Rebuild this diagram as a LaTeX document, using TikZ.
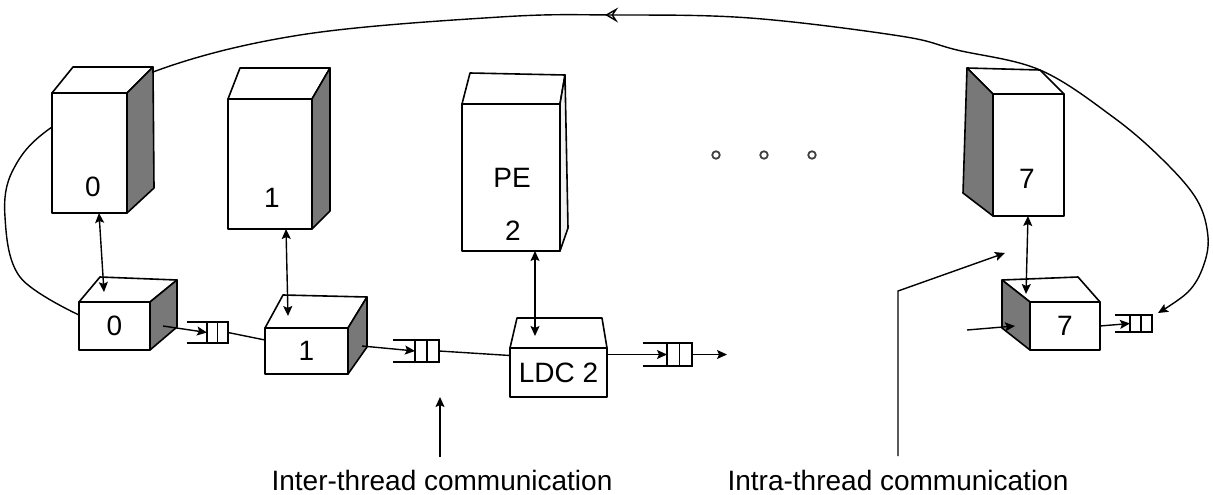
\documentclass[tikz,border=0pt]{standalone}
\usepackage{fontspec}
\setmainfont{Liberation Sans}
\usetikzlibrary{arrows.meta,decorations.markings,calc}
\pgfdeclarelayer{bg}
\pgfsetlayers{bg,main}
\definecolor{sidegray}{gray}{0.47}
\tikzset{
  face/.style={draw=black, line width=1.6pt, line join=round, fill=white},
  dark/.style={face, fill=sidegray},
  light/.style={face, fill=gray!12},
  front/.style={face, rectangle, inner sep=0pt, outer sep=0pt, font=\fontsize{28}{33}\selectfont},
  lbl/.style={inner sep=0pt, font=\fontsize{28}{33}\selectfont},
  capt/.style={inner sep=0pt, anchor=base, font=\fontsize{28}{33}\selectfont},
  conn/.style={line width=1.4pt},
  tip/.style={-{Stealth[length=10pt,width=9pt,inset=2pt]}},
  dbl/.style={conn, {Stealth[length=10pt,width=9pt,inset=2pt]}-{Stealth[length=10pt,width=9pt,inset=2pt]}},
  queue/.style={draw, line width=1.4pt, rectangle, inner sep=0pt, outer sep=0pt, fill=white},
  dotc/.style={circle, draw=black!75, line width=1.8pt, minimum size=7.5pt, inner sep=0pt},
}
\begin{document}
\begin{tikzpicture}[x=1pt,y=-1pt]
\useasboundingbox (0,0) rectangle (1213,495);

% ---------- PE boxes ----------
\node[front, minimum width=75pt, minimum height=120pt] (pe0) at (89.5,153) {};
\draw[face] (pe0.north west) -- (73,67) -- (153,67) -- (pe0.north east) -- cycle;
\draw[dark] (pe0.north east) -- (153,67) -- (154,188) -- (pe0.south east) -- cycle;
\node[lbl] (pe0l) at (93,187) {0};

\node[front, minimum width=84pt, minimum height=130pt] (pe1) at (270,164) {};
\draw[face] (pe1.north west) -- (240,68) -- (330,68) -- (pe1.north east) -- cycle;
\draw[dark] (pe1.north east) -- (330,68) -- (330,211) -- (pe1.south east) -- cycle;
\node[lbl] (pe1l) at (272,198) {1};

\node[front, minimum width=98pt, minimum height=147pt] (pe2) at (511,177.5) {};
\draw[face] (pe2.north west) -- (470,73) -- (565,75) -- (pe2.north east) -- cycle;
\draw[light] (pe2.north east) -- (565,75) -- (568,228) -- (pe2.south east) -- cycle;
\node[lbl] (pe2a) at (512,178) {PE};
\node[lbl] (pe2b) at (513,231) {2};

\node[front, minimum width=71pt, minimum height=122pt] (pe7) at (1028.5,155) {};
\draw[face] (pe7.north west) -- (967,68) -- (1040,70) -- (pe7.north east) -- cycle;
\draw[dark] (pe7.north west) -- (967,68) -- (963,193) -- (pe7.south west) -- cycle;
\node[lbl] (pe7l) at (1027,179) {7};

% ---------- LDC boxes ----------
\node[front, minimum width=71pt, minimum height=48pt] (ldc0) at (114.5,326) {0};
\draw[face] (ldc0.north west) -- (100,277) -- (177,280) -- (ldc0.north east) -- cycle;
\draw[dark] (ldc0.north east) -- (177,280) -- (177,327) -- (ldc0.south east) -- cycle;

\node[front, minimum width=83pt, minimum height=46pt] (ldc1) at (306.5,351) {1};
\draw[face] (ldc1.north west) -- (283,295) -- (367,297) -- (ldc1.north east) -- cycle;
\draw[dark] (ldc1.north east) -- (367,297) -- (367,347) -- (ldc1.south east) -- cycle;

\node[front, minimum width=97pt, minimum height=49pt] (ldc2) at (558.5,372.5) {LDC 2};
\draw[face] (ldc2.north west) -- (517,318) -- (602,318) -- (ldc2.north east) -- cycle;

\node[front, minimum width=70pt, minimum height=48pt] (ldc7) at (1065,326) {7};
\draw[face] (ldc7.north west) -- (1002,280) -- (1078,277) -- (ldc7.north east) -- cycle;
\draw[dark] (ldc7.north west) -- (1002,280) -- (1002,328) -- (ldc7.south west) -- cycle;

% ---------- queues ----------
\node[queue, minimum width=21pt, minimum height=21pt] (q0) at (217.5,332.5) {};
\draw[conn] (q0.north) -- (q0.south) (q0.north west) -- ++(-20,0) (q0.south west) -- ++(-20,0);
\node[queue, minimum width=24pt, minimum height=22pt] (q1) at (427,351) {};
\draw[conn] (q1.north) -- (q1.south) (q1.north west) -- ++(-22,0) (q1.south west) -- ++(-22,0);
\node[queue, minimum width=25pt, minimum height=23pt] (q2) at (679.5,354.5) {};
\draw[conn] (q2.north) -- (q2.south) (q2.north west) -- ++(-24,0) (q2.south west) -- ++(-24,0);
\node[queue, minimum width=22pt, minimum height=17pt] (q7) at (1141,323.5) {};
\draw[conn] (q7.north) -- (q7.south) (q7.north west) -- ++(-15,0) (q7.south west) -- ++(-15,0);

% ---------- PE <-> LDC ----------
\draw[dbl] ([xshift=9.5pt]pe0.south) -- ([xshift=-10.5pt,yshift=10pt]ldc0.north);
\draw[dbl] ([xshift=16pt]pe1.south) -- ([xshift=-18.5pt,yshift=12pt]ldc1.north);
\draw[dbl] ([xshift=24pt]pe2.south) -- ([xshift=-23.5pt,yshift=12pt]ldc2.north);
\draw[dbl] ([xshift=-0.5pt]pe7.south) -- ([xshift=-39pt,yshift=8pt]ldc7.north);

% ---------- ring connectors ----------
\draw[conn,tip] ([xshift=13pt]ldc0.east) -- (q0.west);
\draw[conn] (q0.east) -- ([yshift=11pt]ldc1.west);
\draw[conn,tip] ([xshift=14pt,yshift=5pt]ldc1.east) -- (q1.west);
\draw[conn] (q1.east) -- ([yshift=17pt]ldc2.west);
\draw[conn,tip] ([yshift=18pt]ldc2.east) -- (q2.west);
\coordinate (q2out) at (727,354.5);
\draw[conn,tip] (q2.east) -- (q2out);
\coordinate (ldc7in) at (967,330);
\draw[conn,tip] (ldc7in) -- ([xshift=-15pt]ldc7.west);
\draw[conn,tip] (ldc7.east) -- (q7.west);

% ---------- dots ----------
\node[dotc] (d1) at (716,155) {};
\node[dotc] (d2) at (764,155) {};
\node[dotc] (d3) at (812,155) {};

% ---------- captions ----------
\node[capt] (inter) at (442,490.5) {Inter-thread communication};
\node[capt] (intra) at (898,490.5) {Intra-thread communication};
\coordinate (intertip) at (440,397);
\draw[conn,tip] ([xshift=-2pt,yshift=13pt]inter.north) -- (intertip);
\coordinate (intratip) at (1005,253);
\draw[conn,tip] ([yshift=14pt]intra.north) -- ++(0,-165) -- (intratip);

% ---------- big loop (behind) ----------
\begin{pgfonlayer}{bg}
\draw[conn, -{Stealth[length=10pt,width=9pt,inset=2pt]},
  postaction={decorate},
  decoration={markings, mark=at position 0.51 with {\arrowreversed[line width=1.4pt]{Stealth[open,length=13pt,width=15pt,inset=5pt]}}}]
  plot[smooth, tension=0.6] coordinates {([yshift=11pt]ldc0.west) (20,277) (5,217) (13,170) (52,127) (153,72) (300,35) (500,17) (615,15) (750,18) (900,36) (957,50) (1040,70) (1113,117) (1163,160) (1197,200) (1208,237) (1203,267) (1188,292) ([xshift=6pt,yshift=2pt]q7.north east)};
\end{pgfonlayer}
\end{tikzpicture}
\end{document}
